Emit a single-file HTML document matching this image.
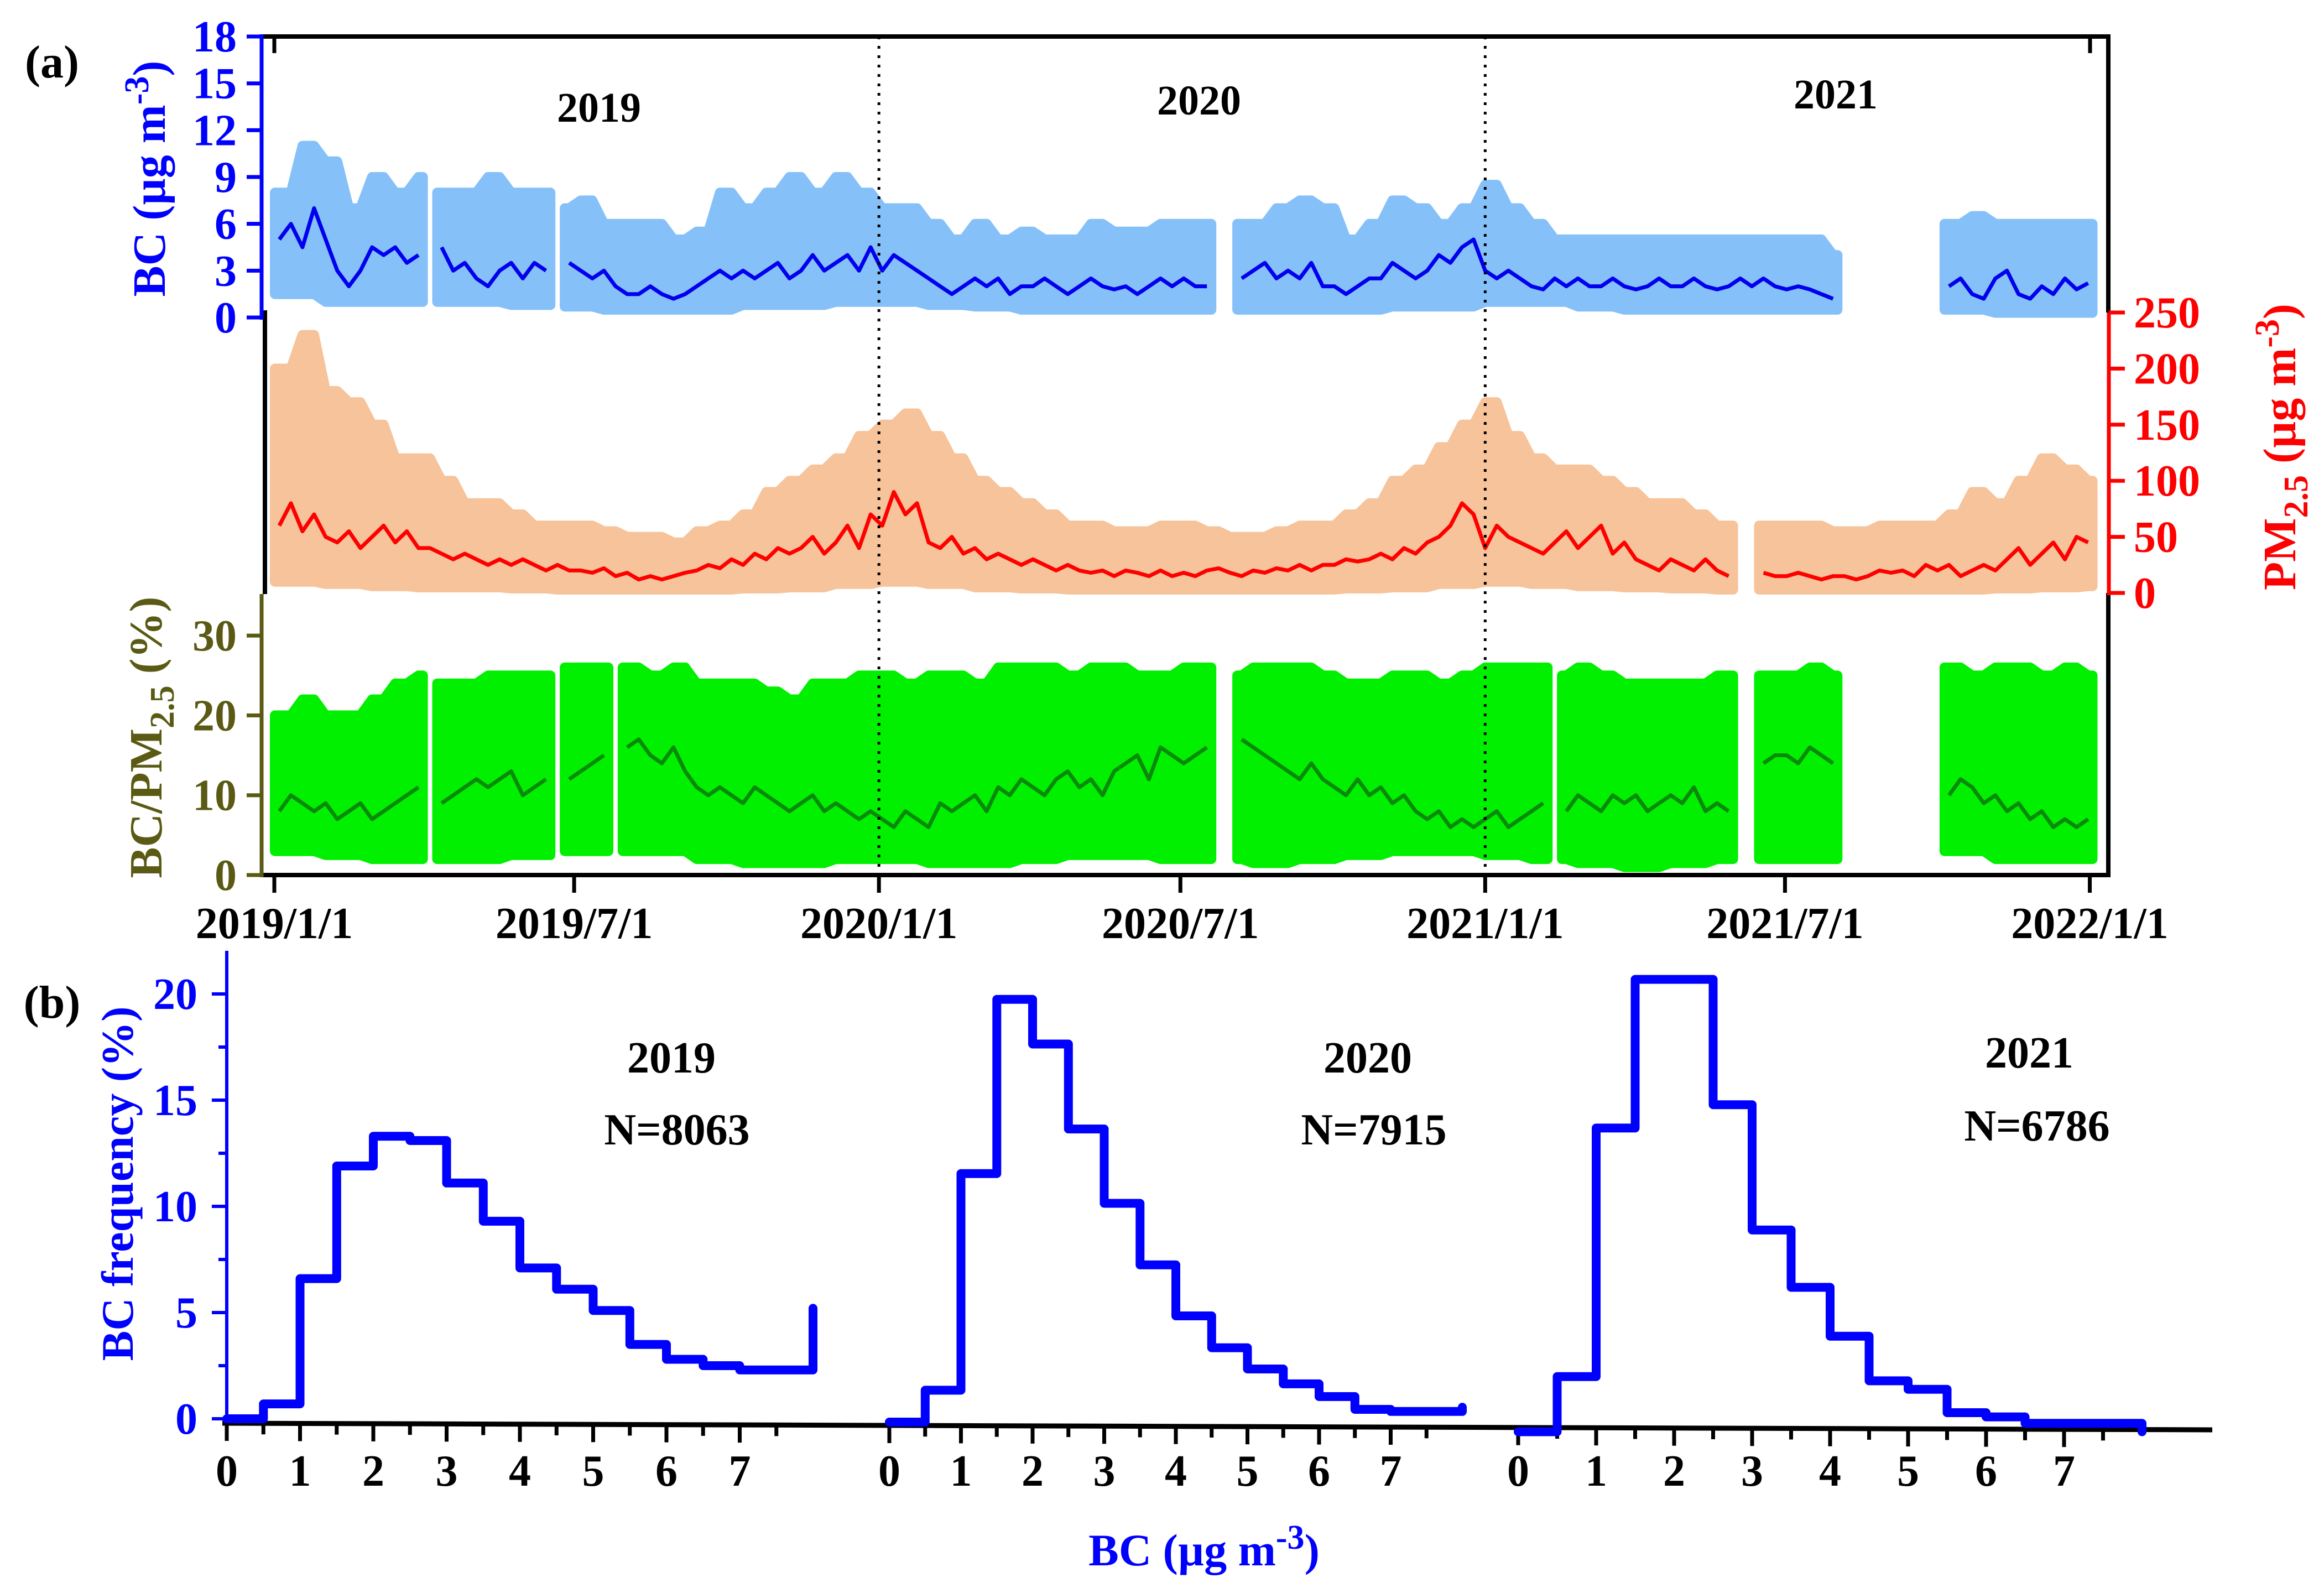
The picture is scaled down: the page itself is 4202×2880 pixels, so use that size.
<!DOCTYPE html>
<html><head><meta charset="utf-8"><style>
html,body{margin:0;padding:0;background:#fff;}
svg{display:block;font-family:"Liberation Serif",serif;font-weight:bold;}
</style></head><body>
<svg id="chart" width="4202" height="2880" viewBox="0 0 4202 2880" xmlns="http://www.w3.org/2000/svg">
<rect x="0" y="0" width="4202" height="2880" fill="#fff"/>
<g id="series-layer"></g>
<g id="axes-layer"></g>
<g id="hist-layer"></g>
<text x="94" y="140" font-size="84" fill="#000" text-anchor="middle">(a)</text>
<text x="94" y="1840" font-size="84" fill="#000" text-anchor="middle">(b)</text>
<text x="1083" y="220" font-size="76" text-anchor="middle">2019</text>
<text x="2168" y="207" font-size="76" text-anchor="middle">2020</text>
<text x="3319" y="196" font-size="76" text-anchor="middle">2021</text>
<text transform="translate(298,323) rotate(-90)" font-size="84" fill="#0000FF" text-anchor="middle">BC (µg m<tspan dy="-30" font-size="62">-3</tspan><tspan dy="30">)</tspan></text>
<text transform="translate(4150,808) rotate(-90)" font-size="84" fill="#FF0000" text-anchor="middle">PM<tspan dy="22" font-size="62">2.5</tspan><tspan dy="-22"> (µg m</tspan><tspan dy="-30" font-size="62">-3</tspan><tspan dy="30">)</tspan></text>
<text transform="translate(292,1333) rotate(-90)" font-size="84" fill="#5A5A14" text-anchor="middle">BC/PM<tspan dy="22" font-size="62">2.5</tspan><tspan dy="-22"> (%)</tspan></text>
<text transform="translate(240,2140) rotate(-90)" font-size="82" fill="#0000FF" text-anchor="middle">BC frequency (%)</text>
<text x="2177" y="2830" font-size="82" fill="#0000FF" text-anchor="middle">BC (µg m<tspan dy="-30" font-size="62">-3</tspan><tspan dy="30">)</tspan></text>
<text x="1214" y="1939" font-size="80" text-anchor="middle">2019</text>
<text x="1224" y="2069" font-size="80" text-anchor="middle">N=8063</text>
<text x="2473" y="1939" font-size="80" text-anchor="middle">2020</text>
<text x="2484" y="2069" font-size="80" text-anchor="middle">N=7915</text>
<text x="3669" y="1930" font-size="80" text-anchor="middle">2021</text>
<text x="3683" y="2062" font-size="80" text-anchor="middle">N=6786</text>
</svg>
<script>
// ---- weekly means (week index from 2019/1/1) ----
const bcMean = [5,6,4.5,7,5,3,2,3,4.5,4,4.5,3.5,4,
null,4.5,3,3.5,2.5,2,3,3.5,2.5,3.5,3,null,3.5,
3,2.5,3,2,1.5,1.5,2,1.5,1.2,1.5,2,2.5,3,
2.5,3,2.5,3,3.5,2.5,3,4,3,3.5,4,3,4.5,
3,4,3.5,3,2.5,2,1.5,2,2.5,2,2.5,1.5,2,
2,2.5,2,1.5,2,2.5,2,1.8,2,1.5,2,2.5,2,
2.5,2,2,null,null,2.5,3,3.5,2.5,3,2.5,3.5,2,
2,1.5,2,2.5,2.5,3.5,3,2.5,3,4,3.5,4.5,5,
3,2.5,3,2.5,2,1.8,2.5,2,2.5,2,2,2.5,2,
1.8,2,2.5,2,2,2.5,2,1.8,2,2.5,2,2.5,2,
1.8,2,1.8,1.5,1.2,null,null,null,null,null,null,null,null,
null,2,2.5,1.5,1.2,2.5,3,1.5,1.2,2,1.5,2.5,1.8,
2.2];
const pmMean = [60,80,55,70,50,45,55,40,50,60,45,55,40,
40,35,30,35,30,25,30,25,30,25,20,25,20,
20,18,22,15,18,12,15,12,15,18,20,25,22,
30,25,35,30,40,35,40,50,35,45,60,40,70,
60,90,70,80,45,40,50,35,40,30,35,30,25,
30,25,20,25,20,18,20,15,20,18,15,20,15,
18,15,20,22,18,15,20,18,22,20,25,20,25,
25,30,28,30,35,30,40,35,45,50,60,80,70,
40,60,50,45,40,35,45,55,40,50,60,35,45,
30,25,20,30,25,20,30,20,15,null,null,18,15,
15,18,15,12,15,15,12,15,20,18,20,15,25,
20,25,15,20,25,20,30,40,25,35,45,30,50,
45];
const ratioMean = [8,10,9,8,9,7,8,9,7,8,9,10,11,
null,9,10,11,12,11,12,13,10,11,12,null,12,
13,14,15,null,16,17,15,14,16,13,11,10,11,
10,9,11,10,9,8,9,10,8,9,8,7,8,
7,6,8,7,6,9,8,9,10,8,11,10,12,
11,10,12,13,11,12,10,13,14,15,12,16,15,
14,15,16,null,null,17,16,15,14,13,12,14,12,
11,10,12,10,11,9,10,8,7,8,6,7,6,
7,8,6,7,8,9,null,8,10,9,8,10,9,
10,8,9,10,9,11,8,9,8,null,null,14,15,
15,14,16,15,14,null,null,null,null,null,null,null,null,
null,10,12,11,9,10,8,9,7,8,6,7,6,
7];
// ---- scatter envelopes (hi: biweekly, lo: 4-weekly) ----
const bcHi = [8,11,10,7,9,8,9,8,8,9, 8,8,7,7.5,6,6,6,5,5.5,8, 7,8,9,8,9,8,7,7,6,5, 6,5,5.5,5,5,6,5.5,5.5,6,6, 6,6,6,7,7.5,7,5,6,7.5,7, 6,7,8.5,7,6,5,5,5,5,5, 5,5,5,5,5,5,5,4,5,5, 5,5,6,6.5,6,6,6,6,6];
const bcLo = [1.5,1,1,1,1,0.8,0.7,0.5,0.5,0.5,0.8,0.8,1,1,0.8,0.7,0.5,0.5,0.5,0.5,0.5,0.5,0.5,0.5,0.7,0.7,1,1,0.7,0.5,0.5,0.5,0.5,0.5,0.5,0.5,0.5,0.3,0.3,0.3];
const pmHi = [200,230,180,170,150,120, 120,100,80,80,70,60,60, 60,55,50,50,45,55,60, 70,90,100,110,120,140,150, 160,140,120,100,90,80, 70,60,60,55,55,60,60, 55,50,50,55,60,60,70, 80,100,110,130,150,170, 140,120,110,110,100,90, 80,80,70,60,60,60,60, 60,55,55,60,60,60,70, 90,80,100,120,110,100];
const pmLo = [10,8,6,5,5,4,3,3,3,3,4,5,8,10,8,5,4,3,3,3,3,3,3,4,5,8,10,8,6,5,4,3,3,3,3,3,3,4,5,6];
const ratioHi = [20,22,20,20,22,24,25,24,24,25,25,25,26, 26,26,26,25,26,24,24,24,23,22,24,24,25, 25,24,25,25,24,26,26,26,25,26,26,25,25, 26,26,25,26,26,26,25,24,24,25,25,24,25,26, 26,26,25,26,25,24,24,24,24,25,26,25,25, 26,25,26,26,25,26,26,25,26,26,25,26,25];
const ratioLo = [3,2.5,2,2,2,2.5,3,3,3,2,1.5,1.5,2,2,1.5,1.5,2,2.5,2.5,2,2,1.5,2,2.5,3,3,2.5,2,1.5,1,1.5,2,2,2,2,2.5,3,2,2,2];
// ---- histograms (bins of 0.5 ug/m3 from 0 to 8) ----
const hist2019 = [0,0.7,6.6,11.9,13.3,13.1,11.1,9.3,7.1,6.1,5.1,3.5,2.8,2.5,2.3,2.3];
const hist2020 = [0,1.5,11.7,19.9,17.8,13.8,10.3,7.4,5.0,3.5,2.5,1.8,1.2,0.6,0.5,0.5];
const hist2021 = [-0.3,2.3,14.0,21.0,21.0,15.1,9.2,6.5,4.2,2.1,1.7,0.6,0.4,0.1,0.1,0.1];
const histEnd = [5.2,0.7,-0.3];
// ---- tick labels ----
const bcTicks = [0,3,6,9,12,15,18];
const pmTicks = [0,50,100,150,200,250];
const ratioTicks = [0,10,20,30];
const dateTickDays = [0,181,365,547,731,912,1096];
const dateTickLabels = ["2019/1/1","2019/7/1","2020/1/1","2020/7/1","2021/1/1","2021/7/1","2022/1/1"];
const freqTicks = [0,5,10,15,20];
const bcBinTicks = [0,1,2,3,4,5,6,7];

const NS="http://www.w3.org/2000/svg";
function mk(tag, attrs, parent){const e=document.createElementNS(NS,tag);for(const k in attrs)e.setAttribute(k,attrs[k]);parent.appendChild(e);return e;}
const SL=document.getElementById('series-layer');
const AL=document.getElementById('axes-layer');
const HL=document.getElementById('hist-layer');

const xDay = d => 496 + d*2.995;
const xWeek = w => xDay(7*w+3);
const yBC = v => 574 - v*28.22;
const yPM = v => 1072 - v*2.028;
const yRatio = v => 1582 - v*14.43;

function drawSeries(mean, hi, lo, yf, bandCol, lineCol, lw, nm){
  let runs=[], cur=[];
  for(let w=0; w<mean.length; w++){
    if(mean[w]===null){ if(cur.length) runs.push(cur); cur=[]; }
    else cur.push(w);
  }
  if(cur.length) runs.push(cur);
  runs.forEach(run=>{
    let top=[], bot=[];
    run.forEach((w,i)=>{
      const h=yf(hi[w>>1]), l=yf(lo[w>>2]);
      if(i===0){ top.push([xWeek(w)-8,h]); bot.push([xWeek(w)-8,l]); }
      top.push([xWeek(w),h]);
      bot.push([xWeek(w),l]);
      if(i===run.length-1){ top.push([xWeek(w)+8,h]); bot.push([xWeek(w)+8,l]); }
    });
    const pts = top.concat(bot.reverse()).map(p=>p[0].toFixed(1)+','+p[1].toFixed(1)).join(' ');
    const band = mk('polygon',{points:pts, fill:bandCol, stroke:bandCol, 'stroke-width':18, 'stroke-linejoin':'round'}, SL);
    
    
    const lp = run.map(w=>xWeek(w).toFixed(1)+','+yf(mean[w]).toFixed(1)).join(' ');
    const line = mk('polyline',{points:lp, fill:'none', stroke:lineCol, 'stroke-width':lw, 'stroke-linejoin':'round'}, SL);
    
    
  });
}
drawSeries(pmMean, pmHi, pmLo, yPM, '#F6C39A', '#FF0000', 7, 'pm25');
drawSeries(ratioMean, ratioHi, ratioLo, yRatio, '#00F000', '#0A8A0A', 7, 'bc-pm25-ratio');
drawSeries(bcMean, bcHi, bcLo, yBC, '#85C1F8', '#0000EE', 7, 'bc');

[365,731].forEach(d=>{
  const l = mk('line',{x1:xDay(d),x2:xDay(d),y1:66,y2:1582,stroke:'#000','stroke-width':5,'stroke-dasharray':'5 12'},AL);
  
  
});

function seg(x1,y1,x2,y2,col,w,nm){const l=mk('line',{x1,y1,x2,y2,stroke:col,'stroke-width':w},AL);return l;}
seg(470,66,3816,66,'#000',8,'frame-top');
seg(3812,62,3812,565,'#000',8,'frame-right-upper');
seg(3812,1072,3812,1586,'#000',8,'frame-right-lower');
seg(470,1582,3816,1582,'#000',8,'time-x-axis');
seg(479,561,479,1074,'#000',8,'frame-left-middle');
seg(473,62,473,578,'#0000FF',7,'bc-axis-line');
seg(3813,565,3813,1076,'#FF0000',7,'pm25-axis-line');
seg(473,1074,473,1586,'#5A5A14',7,'ratio-axis-line');
seg(496,66,496,96,'#000',7,'top-tick-start');
seg(3779,66,3779,96,'#000',7,'top-tick-end');

function txt(x,y,s,size,col,anchor,nm){const t=mk('text',{x,y,'font-size':size,fill:col,'text-anchor':anchor},AL);t.textContent=s;return t;}
bcTicks.forEach(v=>{seg(446,yBC(v),473,yBC(v),'#0000FF',7,'bc-tick');txt(428,yBC(v)+27,String(v),80,'#0000FF','end','bc-tick-label');});
pmTicks.forEach(v=>{seg(3813,yPM(v),3842,yPM(v),'#FF0000',7,'pm25-tick');txt(3858,yPM(v)+27,String(v),80,'#FF0000','start','pm25-tick-label');});
ratioTicks.forEach(v=>{seg(446,yRatio(v),473,yRatio(v),'#5A5A14',7,'ratio-tick');txt(428,yRatio(v)+27,String(v),80,'#5A5A14','end','ratio-tick-label');});
dateTickDays.forEach((d,i)=>{seg(xDay(d),1582,xDay(d),1614,'#000',7,'date-tick');txt(xDay(d),1696,dateTickLabels[i],80,'#000','middle','date-tick-label');});

const yAx = x => 2573 + (x-410)*(12/3590);
seg(410,1719,410,2575,'#0000FF',6,'frequency-axis-line');
const hl = mk('line',{x1:402,y1:yAx(402),x2:4000,y2:yAx(4000),stroke:'#000','stroke-width':9},AL);


const yF = v => 2565 - v*38.4;
freqTicks.forEach(v=>{seg(383,yF(v),410,yF(v),'#0000FF',6,'frequency-tick');txt(357,yF(v)+27,String(v),80,'#0000FF','end','frequency-tick-label');});
[2.5,7.5,12.5,17.5].forEach(v=>{seg(395,yF(v),410,yF(v),'#0000FF',6,'frequency-minor-tick');});

const panels = [{h:hist2019,x0:410,u:132.5,z:2565,e:histEnd[0],nm:'hist-2019'},
                {h:hist2020,x0:1608,u:129.5,z:2571,e:histEnd[1],nm:'hist-2020'},
                {h:hist2021,x0:2745,u:141,z:2577,e:histEnd[2],nm:'hist-2021'}];
panels.forEach(p=>{
  const X = v => p.x0 + v*p.u;
  const Y = v => p.z - v*38.4;
  let d = 'M'+X(0)+','+Y(p.h[0]);
  p.h.forEach((v,i)=>{
    d += ' L'+X((i+1)*0.5).toFixed(1)+','+Y(v).toFixed(1);
    const nv = i+1<p.h.length ? p.h[i+1] : p.e;
    d += ' L'+X((i+1)*0.5).toFixed(1)+','+Y(nv).toFixed(1);
  });
  const path = mk('path',{d, fill:'none', stroke:'#0000FF','stroke-width':16,'stroke-linejoin':'round','stroke-linecap':'round'},HL);
  
  
  for(let k=0;k<=15;k++){
    const v=k*0.5, x=X(v), major=(k%2===0);
    seg(x,yAx(x),x,yAx(x)+(major?32:20),'#000',7,major?'hist-x-tick':'hist-x-minor-tick');
  }
  bcBinTicks.forEach(v=>{txt(X(v),2686,String(v),80,'#000','middle','hist-x-tick-label');});
});
</script>
</body></html>
